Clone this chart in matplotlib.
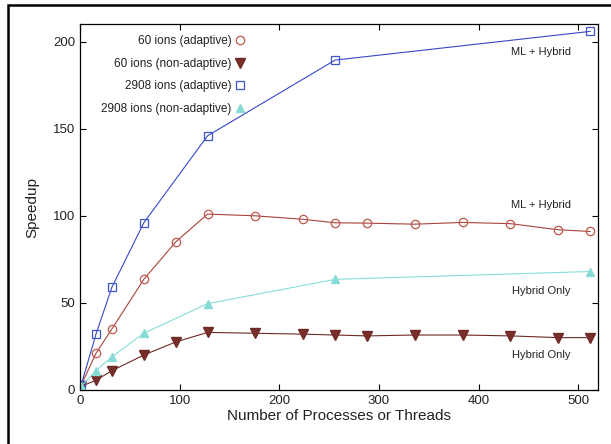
import matplotlib
matplotlib.use("Agg")
import matplotlib.pyplot as plt
from matplotlib.patches import Rectangle
from matplotlib.lines import Line2D

plt.rcParams['font.family'] = ['Liberation Sans', 'DejaVu Sans']

# 60 ions, many thread counts
x60 = [1, 16, 32, 64, 96, 128, 176, 224, 256, 288, 336, 384, 432, 480, 512]
y60_adapt = [2.5, 21, 35, 63.5, 85, 101, 100, 98, 96, 95.8, 95.2, 96.2, 95.5, 92, 91]
y60_nonadapt = [2, 5.5, 11, 20, 27.5, 33, 32.5, 32, 31.5, 31, 31.5, 31.5, 31, 30, 30]
# 2908 ions, powers of two
x2908 = [1, 16, 32, 64, 128, 256, 512]
y2908_adapt = [2.5, 32, 59, 96, 146, 189.5, 206]
y2908_nonadapt = [2, 11, 19, 32.5, 49.5, 63.5, 68]

labels = ['60 ions (adaptive)', '60 ions (non-adaptive)',
          '2908 ions (adaptive)', '2908 ions (non-adaptive)']
notes = ['ML + Hybrid', 'ML + Hybrid', 'Hybrid Only', 'Hybrid Only']
note_pos = [(463, 194), (463, 106), (463, 57), (463, 20)]

fig = plt.figure(figsize=(6.11, 4.44), dpi=100)
ax = fig.add_axes([0.131, 0.122, 0.848, 0.823])

ax.plot(x60, y60_adapt, '-o', color='#a9433c', mec='#c0584e', mfc='none',
        ms=6, mew=0.9, lw=0.8, label=labels[0])
ax.plot(x60, y60_nonadapt, '-v', color='#6e2a26', mec='#6e2a26', mfc='#7a2e2a',
        ms=6.5, lw=0.8, label=labels[1])
ax.plot(x2908, y2908_adapt, '-s', color='#3848c8', mec='#3f55d0', mfc='none',
        ms=6, mew=0.9, lw=0.8, label=labels[2])
ax.plot(x2908, y2908_nonadapt, '-^', color='#88dcd8', mec='#88dcd8', mfc='#88dcd8',
        ms=6, lw=0.8, label=labels[3])

for t, (px, py) in zip(notes, note_pos):
    ax.text(px, py, t, fontsize=8, ha='center', va='center', color='#222222')

ax.set_xlim(0, 520)
ax.set_ylim(0, 210)
ax.set_xticks([0, 100, 200, 300, 400, 500])
ax.set_yticks([0, 50, 100, 150, 200])
ax.tick_params(direction='in', top=True, right=True, labelsize=9.5, length=4,
               width=0.8, labelcolor='#222222')
for s in ax.spines.values():
    s.set_linewidth(0.9)
ax.set_xlabel('Number of Processes or Threads', fontsize=11, labelpad=2, color='#222222')
ax.set_ylabel('Speedup', fontsize=11, labelpad=10, color='#222222')

# gnuplot-like key: text right aligned, symbol on the right, no lines
handles = [Line2D([], [], ls='none', marker=l.get_marker(), mec=l.get_mec(),
                  mfc=l.get_mfc(), ms=l.get_ms(), mew=l.get_mew())
           for l in ax.get_lines()]
leg = ax.legend(handles, labels, loc='upper left', bbox_to_anchor=(0.02, 1.0),
                frameon=False, markerfirst=False, fontsize=8.5, handlelength=0.8,
                handletextpad=0.3, labelspacing=0.9)
leg._legend_box._children[1]._children[0].align = 'right'
for t in leg.get_texts():
    t.set_color('#222222')

fig.add_artist(Rectangle((8 / 611, -0.1), 1.2, 1 - 5.5 / 444 + 0.1, fill=False,
                         lw=1.8, ec='black', transform=fig.transFigure, clip_on=False))

fig.savefig('out.png', dpi=100)
